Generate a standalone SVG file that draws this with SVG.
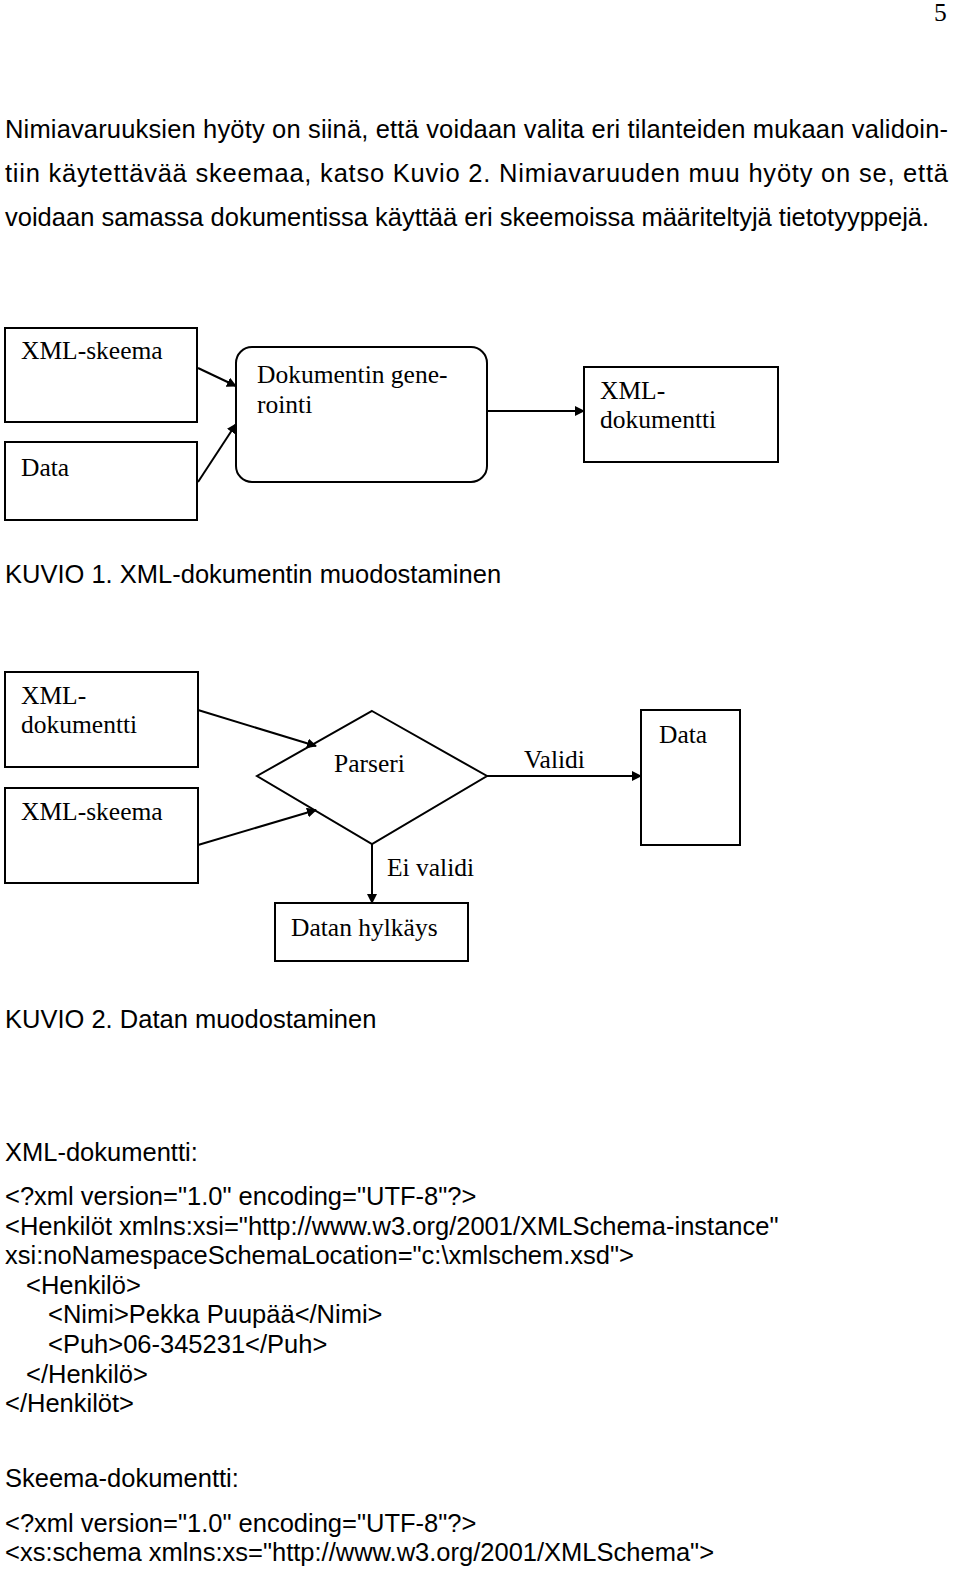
<svg xmlns="http://www.w3.org/2000/svg" width="960" height="1586" viewBox="0 0 960 1586">
<defs>
<marker id="ah" markerWidth="10" markerHeight="10" refX="9" refY="5" orient="auto" markerUnits="userSpaceOnUse"><path d="M0,0 L10,5 L0,10 z" fill="#000"/></marker>
<style>
.s{font-family:"Liberation Sans",Arial,sans-serif;font-size:25.5px;fill:#000}
.t{font-family:"Liberation Serif","Times New Roman",serif;font-size:25.5px;fill:#000}
.b{fill:#fff;stroke:#000;stroke-width:2}
.c{fill:none;stroke:#000;stroke-width:2;marker-end:url(#ah)}
</style>
</defs>
<rect width="960" height="1586" fill="#fff"/>
<text class="t" x="934" y="21" font-size="20">5</text>
<text class="s" x="5" y="138" textLength="943" lengthAdjust="spacing">Nimiavaruuksien hyöty on siinä, että voidaan valita eri tilanteiden mukaan validoin-</text>
<text class="s" x="5" y="182" textLength="943" lengthAdjust="spacing">tiin käytettävää skeemaa, katso Kuvio 2. Nimiavaruuden muu hyöty on se, että</text>
<text class="s" x="5" y="226">voidaan samassa dokumentissa käyttää eri skeemoissa määriteltyjä tietotyyppejä.</text>
<g id="k1-skeema"><rect class="b" x="5" y="328" width="192" height="94"/><text class="t" x="21" y="359">XML-skeema</text></g>
<g id="k1-data"><rect class="b" x="5" y="442" width="192" height="78"/><text class="t" x="21" y="476">Data</text></g>
<g id="k1-gen"><rect class="b" x="236" y="347" width="251" height="135" rx="16"/><text class="t" x="257" y="383">Dokumentin gene-</text><text class="t" x="257" y="413">rointi</text></g>
<g id="k1-doc"><rect class="b" x="584" y="367" width="194" height="95"/><text class="t" x="600" y="399">XML-</text><text class="t" x="600" y="428">dokumentti</text></g>
<g id="k1-connectors">
<line class="c" x1="198" y1="368" x2="236" y2="386"/>
<line class="c" x1="198" y1="482" x2="236" y2="424"/>
<line class="c" x1="488" y1="411" x2="584" y2="411"/>
</g>
<text class="s" x="5" y="583">KUVIO 1. XML-dokumentin muodostaminen</text>
<g id="k2-doc"><rect class="b" x="5" y="672" width="193" height="95"/><text class="t" x="21" y="704">XML-</text><text class="t" x="21" y="733">dokumentti</text></g>
<g id="k2-skeema"><rect class="b" x="5" y="788" width="193" height="95"/><text class="t" x="21" y="820">XML-skeema</text></g>
<g id="k2-parseri"><polygon class="b" points="372,711 487,776 372,844 257,776"/><text class="t" x="334" y="772">Parseri</text></g>
<g id="k2-data"><rect class="b" x="641" y="710" width="99" height="135"/><text class="t" x="659" y="743">Data</text></g>
<g id="k2-hylk"><rect class="b" x="275" y="903" width="193" height="58"/><text class="t" x="291" y="936">Datan hylkäys</text></g>
<g id="k2-connectors">
<line class="c" x1="198" y1="710" x2="316" y2="746"/>
<line class="c" x1="198" y1="845" x2="316" y2="810"/>
<line class="c" x1="487" y1="776" x2="641" y2="776"/>
<line class="c" x1="372" y1="844" x2="372" y2="903"/>
<text class="t" x="524" y="768">Validi</text>
<text class="t" x="387" y="876">Ei validi</text>
</g>
<text class="s" x="5" y="1028">KUVIO 2. Datan muodostaminen</text>
<text class="s" x="5" y="1161">XML-dokumentti:</text>
<text class="s" x="5" y="1205">&lt;?xml version="1.0" encoding="UTF-8"?&gt;</text>
<text class="s" x="5" y="1235">&lt;Henkilöt xmlns:xsi="http://www.w3.org/2001/XMLSchema-instance"</text>
<text class="s" x="5" y="1264">xsi:noNamespaceSchemaLocation="c:\xmlschem.xsd"&gt;</text>
<text class="s" x="26" y="1294">&lt;Henkilö&gt;</text>
<text class="s" x="48" y="1323">&lt;Nimi&gt;Pekka Puupää&lt;/Nimi&gt;</text>
<text class="s" x="48" y="1353">&lt;Puh&gt;06-345231&lt;/Puh&gt;</text>
<text class="s" x="26" y="1383">&lt;/Henkilö&gt;</text>
<text class="s" x="5" y="1412">&lt;/Henkilöt&gt;</text>
<text class="s" x="5" y="1487">Skeema-dokumentti:</text>
<text class="s" x="5" y="1532">&lt;?xml version="1.0" encoding="UTF-8"?&gt;</text>
<text class="s" x="5" y="1561">&lt;xs:schema xmlns:xs="http://www.w3.org/2001/XMLSchema"&gt;</text>
</svg>
